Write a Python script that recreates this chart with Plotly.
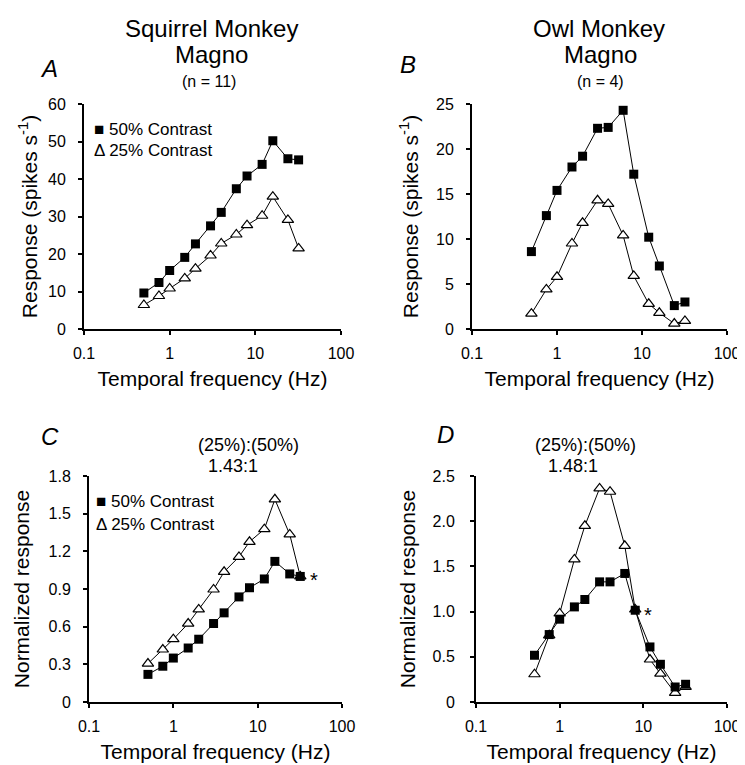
import plotly.graph_objects as go

# ---------------- data ----------------
freq = [0.5, 0.75, 1, 1.5, 2, 3, 4, 6, 8, 12, 16, 24, 32]

squirrel_50 = [9.6, 12.4, 15.6, 19.1, 22.7, 27.5, 31.1, 37.4, 40.8, 43.9, 50.2, 45.4, 45.1]
squirrel_25 = [6.4, 8.8, 10.8, 13.5, 16.1, 19.6, 22.8, 25.2, 27.7, 30.2, 35.3, 29.1, 21.5]
owl_50 = [8.6, 12.6, 15.4, 18.0, 19.2, 22.3, 22.4, 24.3, 17.2, 10.2, 7.0, 2.6, 3.0]
owl_25 = [1.7, 4.4, 5.8, 9.5, 11.8, 14.3, 13.9, 10.4, 5.9, 2.8, 1.8, 0.6, 0.9]

squirrel_norm_50 = [0.22, 0.285, 0.35, 0.43, 0.50, 0.625, 0.71, 0.837, 0.91, 0.98, 1.12, 1.02, 1.0]
squirrel_norm_25 = [0.306, 0.418, 0.50, 0.625, 0.737, 0.896, 1.037, 1.156, 1.276, 1.377, 1.614, 1.335, 1.0]
owl_norm_50 = [0.517, 0.746, 0.916, 1.052, 1.134, 1.329, 1.329, 1.422, 1.015, 0.609, 0.417, 0.166, 0.196]
owl_norm_25 = [0.307, 0.738, 0.979, 1.577, 1.949, 2.363, 2.326, 1.728, 1.023, 0.47, 0.314, 0.1, 0.166]

x_tickvals = [0.1, 1, 10, 100]
x_ticktext = ["0.1", "1", "10", "100"]
yA_ticks = [0, 10, 20, 30, 40, 50, 60]
yB_ticks = [0, 5, 10, 15, 20, 25]
yC_ticks = [0, 0.3, 0.6, 0.9, 1.2, 1.5, 1.8]
yC_text = ["0", "0.3", "0.6", "0.9", "1.2", "1.5", "1.8"]
yD_ticks = [0, 0.5, 1.0, 1.5, 2.0, 2.5]
yD_text = ["0", "0.5", "1.0", "1.5", "2.0", "2.5"]

# ---------------- layout helpers ----------------
OFF = 8                      # page body margin
W, H = 745 - OFF, 765 - OFF  # figure size
FONT = "Liberation Sans, Arial, Helvetica, sans-serif"


def px(x, y):
    return (x - OFF) / W, 1 - (y - OFF) / H


def xdom(a, b):
    return [(a - OFF) / W, (b - OFF) / W]


def ydom(top, bottom):
    return [1 - (bottom - OFF) / H, 1 - (top - OFF) / H]


fig = go.Figure()

panels = [
    ("x", "y", squirrel_50, squirrel_25),
    ("x2", "y2", owl_50, owl_25),
    ("x3", "y3", squirrel_norm_50, squirrel_norm_25),
    ("x4", "y4", owl_norm_50, owl_norm_25),
]

for xa, ya, v50, v25 in panels:
    fig.add_trace(go.Scatter(
        x=freq, y=v25, xaxis=xa, yaxis=ya, mode="lines+markers",
        line=dict(color="black", width=1),
        marker=dict(symbol="triangle-up", size=10, color="white",
                    line=dict(color="black", width=1.2)),
        showlegend=False, cliponaxis=False,
    ))
    fig.add_trace(go.Scatter(
        x=freq, y=v50, xaxis=xa, yaxis=ya, mode="lines+markers",
        line=dict(color="black", width=1),
        marker=dict(symbol="square", size=9, color="black",
                    line=dict(color="black", width=0)),
        showlegend=False, cliponaxis=False,
    ))

axis_common = dict(
    showline=True, linecolor="black", linewidth=2,
    ticks="outside", ticklen=4, tickwidth=1.5, tickcolor="black",
    showgrid=False, zeroline=False, automargin=False,
    tickfont=dict(family=FONT, size=16, color="black"),
)

xt = dict(type="log", range=[-1, 2], tickvals=x_tickvals, ticktext=x_ticktext,
          ticklabelstandoff=5,
          title=dict(text="Temporal frequency (Hz)", font=dict(family=FONT, size=21, color="black"),
                     standoff=10),
          **axis_common)

ytitle_font = dict(family=FONT, size=21, color="black")

fig.update_layout(
    width=W, height=H, template="none",
    paper_bgcolor="white", plot_bgcolor="white",
    margin=dict(l=0, r=0, t=0, b=0),
    font=dict(family=FONT, color="black"),
    xaxis=dict(domain=xdom(84, 341), anchor="y", **xt),
    xaxis2=dict(domain=xdom(472, 727), anchor="y2", **xt),
    xaxis3=dict(domain=xdom(89, 342), anchor="y3", **xt),
    xaxis4=dict(domain=xdom(476, 727), anchor="y4", **xt),
    yaxis=dict(domain=ydom(104, 329), anchor="x", range=[0, 60], tickvals=yA_ticks,
               ticklabelstandoff=9,
               title=dict(text="Response (spikes s<sup>-1</sup>)", font=ytitle_font, standoff=5),
               **axis_common),
    yaxis2=dict(domain=ydom(104, 329), anchor="x2", range=[0, 25], tickvals=yB_ticks,
                ticklabelstandoff=9,
                title=dict(text="Response (spikes s<sup>-1</sup>)", font=ytitle_font, standoff=12),
                **axis_common),
    yaxis3=dict(domain=ydom(476, 702), anchor="x3", range=[0, 1.8], tickvals=yC_ticks,
                ticktext=yC_text, ticklabelstandoff=9,
                title=dict(text="Normalized response", font=ytitle_font, standoff=13),
                **axis_common),
    yaxis4=dict(domain=ydom(476, 702), anchor="x4", range=[0, 2.5], tickvals=yD_ticks,
                ticktext=yD_text, ticklabelstandoff=12,
                title=dict(text="Normalized response", font=ytitle_font, standoff=11),
                **axis_common),
)


def text_at(x, y, text, size, italic=False, xanchor="center"):
    xp, yp = px(x, y)
    fig.add_annotation(
        x=xp, y=yp, xref="paper", yref="paper", text=text, showarrow=False,
        xanchor=xanchor, yanchor="middle",
        font=dict(family=FONT, size=size, color="black",
                  style="italic" if italic else "normal"),
    )


# titles
text_at(211, 28, "Squirrel Monkey", 24)
text_at(211, 55, "Magno", 24)
text_at(209, 81, "(n = 11)", 16)
text_at(599, 28, "Owl Monkey", 24)
text_at(600, 55, "Magno", 24)
text_at(600, 81, "(n = 4)", 16)

# panel letters
text_at(49, 68, "A", 24, italic=True)
text_at(408, 65, "B", 24, italic=True)
text_at(50, 437, "C", 24, italic=True)
text_at(445, 434, "D", 24, italic=True)

# ratio labels
text_at(248, 445, "(25%):(50%)", 18)
text_at(233, 466, "1.43:1", 18)
text_at(585, 445, "(25%):(50%)", 18)
text_at(573, 466, "1.48:1", 18)

# asterisks
text_at(314, 580, "*", 20)
text_at(648, 615, "*", 20)

# legends
text_at(92, 130, "■ 50% Contrast", 17, xanchor="left")
text_at(92, 150, "Δ 25% Contrast", 17, xanchor="left")
text_at(94, 501, "■ 50% Contrast", 17, xanchor="left")
text_at(94, 524, "Δ 25% Contrast", 17, xanchor="left")

fig.write_html("out.html")
